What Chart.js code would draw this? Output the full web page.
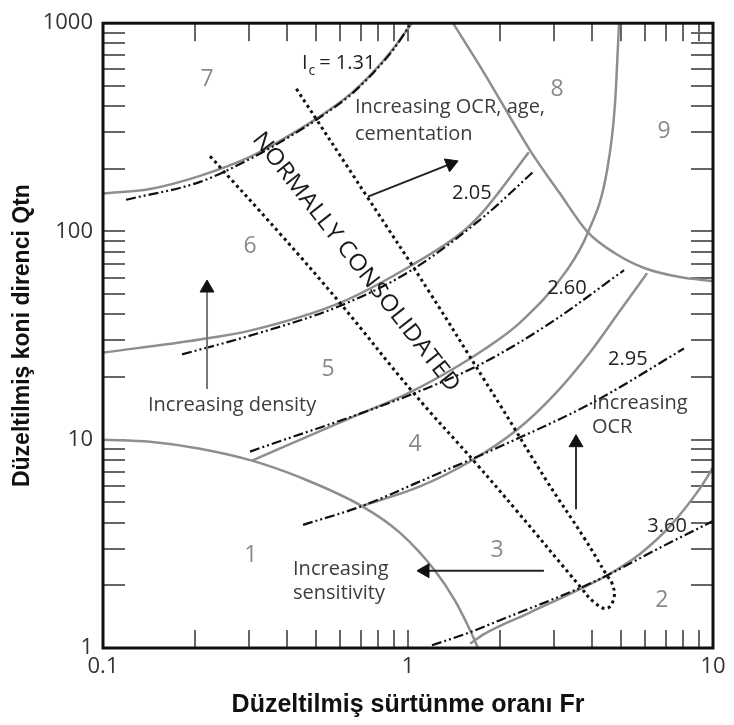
<!DOCTYPE html>
<html>
<head>
<meta charset="utf-8">
<script src="https://cdn.jsdelivr.net/npm/chart.js@4.4.1/dist/chart.umd.min.js"></script>
<style>
  body { margin: 0; background: #fff; }
  canvas { display: block; }
</style>
</head>
<body>
<canvas id="sbtChart" width="734" height="725"></canvas>
<script>
"use strict";

// Eksen metinleri
const xTitle = 'Düzeltilmiş sürtünme oranı Fr';
const yTitle = 'Düzeltilmiş koni direnci Qtn';
const xTickLabels = ['0.1', '1', '10'];
const yTickLabels = ['1', '10', '100', '1000'];
const xTicks = [0.1, 0.2, 0.3, 0.4, 0.5, 0.6, 0.7, 0.8, 0.9, 1, 2, 3, 4, 5, 6, 7, 8, 9, 10];
const yTicks = [1, 2, 3, 4, 5, 6, 7, 8, 9, 10, 20, 30, 40, 50, 60, 70, 80, 90,
                100, 200, 300, 400, 500, 600, 700, 800, 900, 1000];

// Bölge sınırları (gri çizgiler), [Fr, Qtn]
const zone1Edge = [[0.1, 10], [0.1426, 9.78], [0.208, 9.06], [0.308, 7.94], [0.443, 6.59], [0.706, 4.80],
                   [0.942, 3.57], [1.226, 2.35], [1.426, 1.69], [1.597, 1.22], [1.696, 1]];
const zone2Edge = [[1.60, 1.05], [1.775, 1.166], [2.51, 1.48], [3.69, 1.93], [4.49, 2.23], [5.76, 2.83],
                   [7.23, 3.85], [9.06, 5.84], [10, 7.36]];
const zone34Edge = [[0.706, 4.80], [1.095, 5.97], [1.597, 7.86], [2.277, 11.16], [3.03, 16.56],
                    [3.95, 26.24], [4.955, 41.6], [6.08, 63.1]];
const zone45Edge = [[0.308, 7.94], [0.646, 12.7], [1.015, 16.9], [1.40, 21.8], [1.775, 27.1], [2.33, 36.5],
                    [3.32, 65.2], [3.89, 98.9], [4.49, 195], [4.77, 407], [4.92, 1000]];
const zone56Edge = [[0.1, 26.2], [0.208, 30.3], [0.3034, 33.4], [0.598, 45.4], [1.015, 68.1], [1.514, 100],
                    [1.775, 126], [2.49, 240]];
const zone67Edge = [[0.1, 152], [0.1426, 160], [0.208, 185], [0.3034, 228], [0.410, 290], [0.526, 365],
                    [0.6555, 464], [0.797, 617], [0.9135, 786], [1.03, 1000]];
const zone89Edge = [[1.405, 1000], [1.775, 578], [2.51, 246], [3.15, 152], [3.89, 98.9], [4.77, 78.6],
                    [5.98, 66.6], [7.79, 60.4], [10, 57.8]];

// Ic eğrileri (kesik-noktalı)
const ic131 = [[0.119, 142], [0.208, 173], [0.3034, 223], [0.410, 286], [0.526, 361], [0.6555, 459],
               [0.797, 611], [0.9135, 777], [1.023, 1000]];
const ic205 = [[0.1816, 25.7], [0.3034, 31.6], [0.598, 43.9], [1.015, 64.5], [1.775, 118], [2.59, 195]];
const ic260 = [[0.3034, 8.77], [1.015, 16.4], [1.775, 23.5], [2.94, 36.5], [5.11, 65.2]];
const ic295 = [[0.4527, 3.90], [0.706, 4.80], [1.095, 6.31], [2.277, 10.1], [4.07, 15.2], [8.03, 27.4]];
const ic360 = [[1.198, 1.03], [1.597, 1.19], [2.003, 1.36], [3.69, 1.95], [4.49, 2.23], [6.70, 3.03], [10, 4.07]];

// Normal konsolide bandı (noktalı)
const ncBand = [[0.2243, 230], [0.380, 97.8], [0.598, 45.4], [1.038, 16.9], [1.684, 7.60], [2.277, 4.54],
                [3.69, 1.95], [4.07, 1.66], [4.49, 1.55], [4.74, 1.75], [4.67, 2.04], [4.49, 2.23],
                [3.78, 3.38], [2.856, 6.31], [2.003, 14.7], [1.775, 19.5], [1.18, 50.7], [0.734, 147], [0.426, 496]];

// Oklar: [kuyruk, uç], açı (derece)
const arrowDensity = [[0.2193, 17.5], [0.2193, 53.5]];
const arrowAge = [[0.739, 147], [1.38, 211]];
const arrowOcr = [[3.555, 4.64], [3.555, 9.68]];
const arrowSens = [[2.79, 2.35], [1.137, 2.35]];
const arrowAngles = [0, 68, 0, -90];

// Bölge numaraları
const zoneNames = ['1', '2', '3', '4', '5', '6', '7', '8', '9'];
const zoneX = [0.3055, 6.80, 1.958, 1.054, 0.5466, 0.3034, 0.2193, 3.08, 6.91];
const zoneY = [2.77, 1.69, 2.93, 9.47, 21.8, 84.8, 535, 480, 303];

// Ic değerleri
const icNames = ['2.05', '2.60', '2.95', '3.60'];
const icLabelX = [1.62, 3.32, 5.26, 7.07];
const icLabelY = [152, 53.5, 24.3, 3.85];

// Açıklama metinleri (sol hizalı)
const noteText = ['Increasing OCR, age,', 'cementation', 'Increasing density', 'Increasing', 'sensitivity', 'Increasing', 'OCR'];
const noteX = [0.670, 0.670, 0.1404, 0.4198, 0.4198, 4.01, 4.01];
const noteY = [394, 293, 14.7, 2.40, 1.83, 15.0, 11.5];

const icTopX = 0.449, icTopY = 645;
const ncText = 'NORMALLY CONSOLIDATED';
const ncX = 0.675, ncY = 71.2;

function pts(arr) {
    return arr.map(p => ({ x: p[0], y: p[1] }));
}

function tickLabel(v, labels) {
    const hit = labels.find(l => Math.abs(Math.log10(parseFloat(l)) - Math.log10(v)) < 1e-6);
    return hit === undefined ? '' : hit;
}

function grayLine(arr) {
    return { data: pts(arr), borderColor: '#8e8e8e', borderWidth: 2.5, cubicInterpolationMode: 'monotone' };
}

function icLine(arr) {
    return { data: pts(arr), borderColor: '#111', borderWidth: 2.2, borderDash: [10, 3, 2, 3, 2, 3], cubicInterpolationMode: 'monotone' };
}

function arrow(arr, angle, lineColor) {
    return {
        data: pts(arr), borderColor: lineColor, borderWidth: 2, tension: 0,
        pointRadius: [0, 8], pointStyle: 'triangle', pointRotation: angle,
        pointBackgroundColor: '#111', pointBorderColor: '#111', pointBorderWidth: 1
    };
}

// Çerçeve, iç tik çizgileri ve metinler
const overlay = {
    id: 'overlay',
    beforeDatasetsDraw(chart) {
        const { ctx, chartArea: a, scales: { x, y } } = chart;
        ctx.save();
        ctx.strokeStyle = '#666';
        ctx.lineWidth = 2;
        ctx.beginPath();
        xTicks.forEach(v => {
            const px = Math.round(x.getPixelForValue(v));
            ctx.moveTo(px, a.bottom); ctx.lineTo(px, a.bottom - 18);
            ctx.moveTo(px, a.top); ctx.lineTo(px, a.top + 18);
        });
        yTicks.forEach(v => {
            const py = Math.round(y.getPixelForValue(v));
            ctx.moveTo(a.left, py); ctx.lineTo(a.left + 22, py);
            ctx.moveTo(a.right, py); ctx.lineTo(a.right - 22, py);
        });
        ctx.stroke();
        ctx.restore();
    },
    afterDatasetsDraw(chart) {
        const { ctx, chartArea: a, scales: { x, y } } = chart;
        ctx.save();
        ctx.strokeStyle = '#111';
        ctx.lineWidth = 3;
        ctx.strokeRect(a.left, a.top, a.right - a.left, a.bottom - a.top);

        ctx.textBaseline = 'middle';
        ctx.textAlign = 'center';
        ctx.fillStyle = '#8a8a8a';
        ctx.font = '23px "Open Sans"';
        zoneNames.forEach((t, i) => ctx.fillText(t, x.getPixelForValue(zoneX[i]), y.getPixelForValue(zoneY[i])));

        ctx.fillStyle = '#222';
        ctx.font = '20px "Open Sans"';
        icNames.forEach((t, i) => ctx.fillText(t, x.getPixelForValue(icLabelX[i]), y.getPixelForValue(icLabelY[i])));

        ctx.textAlign = 'left';
        ctx.fillStyle = '#3c3c3c';
        noteText.forEach((t, i) => ctx.fillText(t, x.getPixelForValue(noteX[i]), y.getPixelForValue(noteY[i])));

        // Ic = 1.31
        ctx.fillStyle = '#222';
        const ix = x.getPixelForValue(icTopX), iy = y.getPixelForValue(icTopY);
        ctx.fillText('I', ix, iy);
        const wI = ctx.measureText('I').width;
        ctx.font = '14px "Open Sans"';
        ctx.fillText('c', ix + wI + 1, iy + 8);
        const wc = ctx.measureText('c').width;
        ctx.font = '20px "Open Sans"';
        ctx.fillText('= 1.31', ix + wI + wc + 5, iy);

        // NORMALLY CONSOLIDATED
        ctx.translate(x.getPixelForValue(ncX), y.getPixelForValue(ncY));
        ctx.rotate(52 * Math.PI / 180);
        ctx.font = '23px "Open Sans"';
        ctx.textAlign = 'center';
        const w = ctx.measureText(ncText).width;
        ctx.scale(322 / w, 1);
        ctx.fillStyle = '#1a1a1a';
        ctx.fillText(ncText, 0, 0);
        ctx.restore();
    }
};

const sbtEl = document.getElementById('sbtChart');
new Chart(sbtEl, {
    type: 'scatter',
    data: {
        datasets: [
            arrow(arrowDensity, arrowAngles[0], '#777'),
            arrow(arrowAge, arrowAngles[1], '#222'),
            arrow(arrowOcr, arrowAngles[2], '#333'),
            arrow(arrowSens, arrowAngles[3], '#222'),
            { data: pts(ncBand), borderColor: '#111', borderWidth: 3, borderDash: [3, 3.5], tension: 0.4 },
            icLine(ic131), icLine(ic205), icLine(ic260), icLine(ic295), icLine(ic360),
            grayLine(zone1Edge), grayLine(zone2Edge), grayLine(zone34Edge), grayLine(zone45Edge),
            grayLine(zone56Edge), grayLine(zone67Edge), grayLine(zone89Edge)
        ]
    },
    options: {
        responsive: false,
        animation: false,
        showLine: true,
        layout: { padding: { left: 0, top: 17, right: 21, bottom: 0 } },
        elements: { point: { radius: 0, hoverRadius: 0 } },
        plugins: { legend: { display: false }, tooltip: { enabled: false } },
        scales: {
            x: {
                type: 'logarithmic', min: 0.1, max: 10, position: 'bottom',
                grid: { display: false, drawTicks: false },
                border: { display: false },
                ticks: {
                    autoSkip: false, maxRotation: 0, minRotation: 0, padding: 6, color: '#333',
                    font: { family: 'Open Sans', size: 22 },
                    callback: v => tickLabel(v, xTickLabels)
                },
                title: {
                    display: true, text: xTitle, color: '#111',
                    font: { family: 'Liberation Sans', size: 25, weight: 'bold' },
                    padding: { top: 0, bottom: 5 }
                },
                afterFit: s => { s.height = 77; }
            },
            y: {
                type: 'logarithmic', min: 1, max: 1000, position: 'left',
                grid: { display: false, drawTicks: false },
                border: { display: false },
                ticks: {
                    autoSkip: false, padding: 10, color: '#333',
                    font: { family: 'Open Sans', size: 22 },
                    callback: v => tickLabel(v, yTickLabels)
                },
                title: {
                    display: true, text: yTitle, color: '#111',
                    font: { family: 'Liberation Sans', size: 23, weight: 'bold' },
                    padding: { top: 9, bottom: 0 }
                },
                afterFit: s => { s.width = 103; }
            }
        }
    },
    plugins: [overlay]
});
</script>
</body>
</html>
